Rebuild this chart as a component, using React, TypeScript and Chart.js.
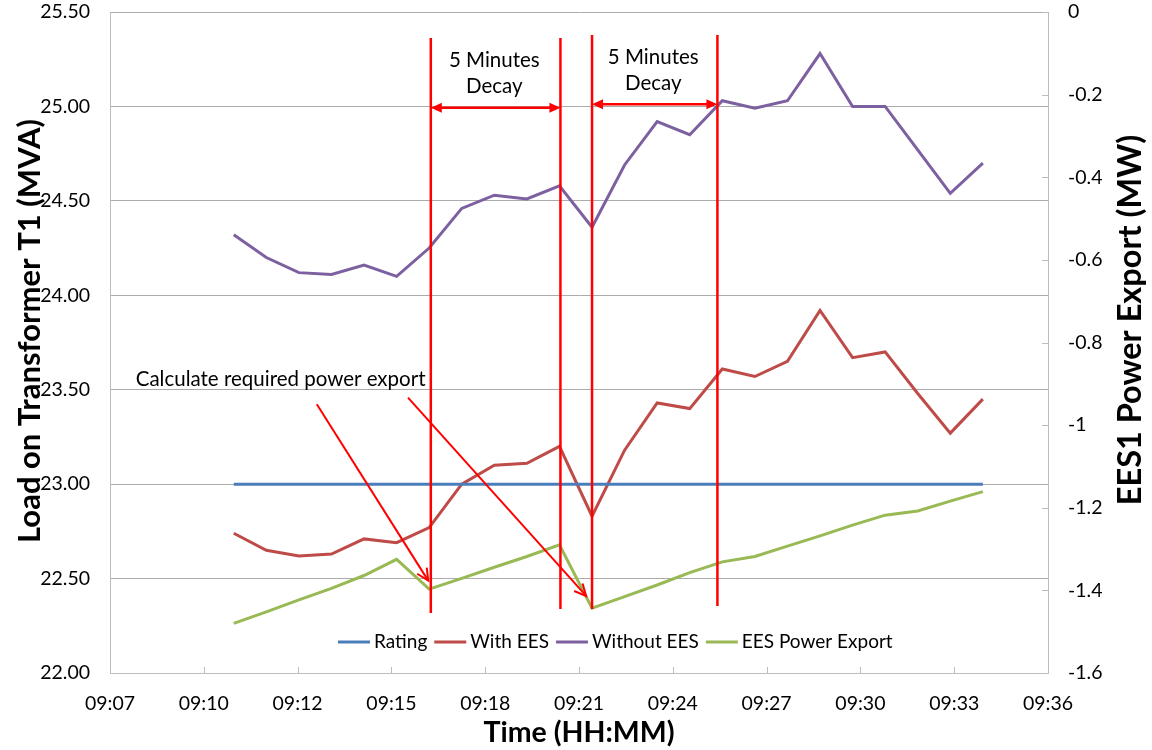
import { useEffect, useRef } from "react";
import { Chart, registerables } from "chart.js";

Chart.register(...registerables);

// Sample times (one reading per minute)
const TIME_LABELS = [
  "09:11", "09:12", "09:13", "09:14", "09:15", "09:16", "09:17", "09:18",
  "09:19", "09:20", "09:21", "09:22", "09:23", "09:24", "09:25", "09:26",
  "09:27", "09:28", "09:29", "09:30", "09:31", "09:32", "09:33", "09:34",
];

// Transformer T1 load (MVA)
const RATING = [
  23.0, 23.0, 23.0, 23.0, 23.0, 23.0, 23.0, 23.0, 23.0, 23.0, 23.0, 23.0,
  23.0, 23.0, 23.0, 23.0, 23.0, 23.0, 23.0, 23.0, 23.0, 23.0, 23.0, 23.0,
];
const WITH_EES = [
  22.74, 22.65, 22.62, 22.63, 22.71, 22.69, 22.77, 23.0, 23.1, 23.11, 23.2, 22.83,
  23.18, 23.43, 23.4, 23.61, 23.57, 23.65, 23.92, 23.67, 23.7, 23.48, 23.27, 23.45,
];
const WITHOUT_EES = [
  24.32, 24.2, 24.12, 24.11, 24.16, 24.1, 24.25, 24.46, 24.53, 24.51, 24.58, 24.36,
  24.69, 24.92, 24.85, 25.03, 24.99, 25.03, 25.28, 25.0, 25.0, 24.77, 24.54, 24.7,
];

// EES1 power export (MW)
const EES_POWER_EXPORT = [
  -1.48, -1.452, -1.423, -1.395, -1.364, -1.325, -1.397, -1.371, -1.344, -1.318, -1.29, -1.443,
  -1.415, -1.387, -1.357, -1.331, -1.318, -1.293, -1.268, -1.242, -1.218, -1.208, -1.184, -1.161,
];

// Time axis: 09:07:12 .. 09:36:00 in minutes since midnight, 2.88 min per division
const X_MIN = 547.2;
const X_MAX = 576;
const X_STEP = 2.88;
const X_TICK_LABELS = [
  "09:07", "09:10", "09:12", "09:15", "09:18", "09:21",
  "09:24", "09:27", "09:30", "09:33", "09:36",
];

const SERIES_NAMES = ["Rating", "With EES", "Without EES", "EES Power Export"];
const SERIES_COLORS = ["#4A7EBB", "#BE4B48", "#7D60A0", "#98B954"];

const LEFT_TITLE = "Load on Transformer T1 (MVA)";
const RIGHT_TITLE = "EES1 Power Export (MW)";
const X_TITLE = "Time (HH:MM)";

const FONT = "Lato, Carlito, 'Open Sans', sans-serif";
const RED = "#FF0000";
const GRID = "#ABABAB";
const AXIS = "#BDBDBD";

const toMinutes = (hhmm: string) => {
  const [h, m] = hhmm.split(":").map(Number);
  return h * 60 + m;
};

// Decay-window annotations, in data units (x: minutes, y: left axis MVA)
const DECAY_LINES = [
  { t: 557.05, top: 25.362, bottom: 22.318 },
  { t: 561.03, top: 25.362, bottom: 22.339 },
  { t: 562.0, top: 25.378, bottom: 22.339 },
  { t: 565.85, top: 25.378, bottom: 22.355 },
];
const DECAY_SPANS = [
  { from: 557.05, to: 561.03, y: 24.993, textT: 559.0, textY: [25.242, 25.104] },
  { from: 562.0, to: 565.85, y: 25.011, textT: 563.88, textY: [25.258, 25.122] },
];
const DECAY_TEXT = ["5 Minutes", "Decay"];
const CALC_NOTE = { text: "Calculate required power export", t: 547.99, y: 23.557 };
const CALC_ARROWS = [
  { t1: 553.55, y1: 23.423, t2: 556.97, y2: 22.489 },
  { t1: 556.35, y1: 23.458, t2: 561.82, y2: 22.408 },
];

const filledHead = (ctx: CanvasRenderingContext2D, x: number, y: number, dir: number) => {
  // dir: +1 points right, -1 points left
  ctx.beginPath();
  ctx.moveTo(x, y);
  ctx.lineTo(x - dir * 11, y - 5);
  ctx.lineTo(x - dir * 11, y + 5);
  ctx.closePath();
  ctx.fill();
};

const openHead = (ctx: CanvasRenderingContext2D, x1: number, y1: number, x2: number, y2: number) => {
  const a = Math.atan2(y2 - y1, x2 - x1);
  const len = 13;
  const spread = 0.45;
  ctx.beginPath();
  ctx.moveTo(x2 - len * Math.cos(a - spread), y2 - len * Math.sin(a - spread));
  ctx.lineTo(x2, y2);
  ctx.lineTo(x2 - len * Math.cos(a + spread), y2 - len * Math.sin(a + spread));
  ctx.stroke();
};

const decayNotes = {
  id: "decayNotes",
  afterDatasetsDraw(chart: any) {
    const { ctx } = chart;
    const xs = chart.scales.x;
    const ys = chart.scales.y;
    const px = (t: number) => xs.getPixelForValue(t);
    const py = (v: number) => ys.getPixelForValue(v);
    ctx.save();
    ctx.strokeStyle = RED;
    ctx.fillStyle = RED;
    ctx.lineCap = "butt";

    ctx.lineWidth = 2.5;
    DECAY_LINES.forEach((l) => {
      ctx.beginPath();
      ctx.moveTo(px(l.t), py(l.top));
      ctx.lineTo(px(l.t), py(l.bottom));
      ctx.stroke();
    });

    DECAY_SPANS.forEach((s) => {
      const x1 = px(s.from);
      const x2 = px(s.to);
      const y = py(s.y);
      ctx.lineWidth = 2.5;
      ctx.beginPath();
      ctx.moveTo(x1 + 8, y);
      ctx.lineTo(x2 - 8, y);
      ctx.stroke();
      filledHead(ctx, x1, y, -1);
      filledHead(ctx, x2, y, 1);
    });

    ctx.lineWidth = 2;
    CALC_ARROWS.forEach((a) => {
      const x1 = px(a.t1), y1 = py(a.y1), x2 = px(a.t2), y2 = py(a.y2);
      ctx.beginPath();
      ctx.moveTo(x1, y1);
      ctx.lineTo(x2, y2);
      ctx.stroke();
      openHead(ctx, x1, y1, x2, y2);
    });

    ctx.fillStyle = "#000";
    ctx.font = `20.5px ${FONT}`;
    ctx.textBaseline = "middle";
    ctx.textAlign = "center";
    DECAY_SPANS.forEach((s) => {
      DECAY_TEXT.forEach((txt, i) => ctx.fillText(txt, px(s.textT), py(s.textY[i])));
    });
    ctx.textAlign = "left";
    ctx.fillText(CALC_NOTE.text, px(CALC_NOTE.t), py(CALC_NOTE.y));
    ctx.restore();
  },
};

// Short inward tick marks on the time axis and the secondary axis
const innerTicks = {
  id: "innerTicks",
  afterDatasetsDraw(chart: any) {
    const { ctx, chartArea } = chart;
    const xs = chart.scales.x;
    const y1 = chart.scales.y1;
    ctx.save();
    ctx.strokeStyle = AXIS;
    ctx.lineWidth = 1;
    xs.ticks.forEach((tk: any) => {
      const x = Math.round(xs.getPixelForValue(tk.value)) + 0.5;
      ctx.beginPath();
      ctx.moveTo(x, chartArea.bottom);
      ctx.lineTo(x, chartArea.bottom - 6);
      ctx.stroke();
    });
    y1.ticks.forEach((tk: any) => {
      const y = Math.round(y1.getPixelForValue(tk.value)) + 0.5;
      ctx.beginPath();
      ctx.moveTo(chartArea.right, y);
      ctx.lineTo(chartArea.right - 6, y);
      ctx.stroke();
    });
    ctx.restore();
  },
};

// Both value-axis titles read bottom-to-top
const sideTitles = {
  id: "sideTitles",
  afterDraw(chart: any) {
    const { ctx, chartArea } = chart;
    const draw = (text: string, x: number, y: number, size: number) => {
      ctx.save();
      ctx.translate(x, y);
      ctx.rotate(-Math.PI / 2);
      ctx.font = `bold ${size}px ${FONT}`;
      ctx.fillStyle = "#000";
      ctx.textAlign = "center";
      ctx.textBaseline = "middle";
      ctx.fillText(text, 0, 0);
      ctx.restore();
    };
    draw(LEFT_TITLE, chartArea.left - 80, chartArea.top + 319, 31);
    draw(RIGHT_TITLE, chartArea.right + 83, chartArea.top + 308, 32.5);
  },
};

// Legend drawn inside the plot area, along its lower edge
const insideLegend = {
  id: "insideLegend",
  afterDraw(chart: any) {
    const { ctx, chartArea } = chart;
    let x = chartArea.left + 228;
    const y = chartArea.bottom - 31;
    ctx.save();
    ctx.font = `19px ${FONT}`;
    ctx.textBaseline = "middle";
    ctx.textAlign = "left";
    chart.data.datasets.forEach((ds: any) => {
      ctx.strokeStyle = ds.borderColor;
      ctx.lineWidth = 3;
      ctx.beginPath();
      ctx.moveTo(x, y);
      ctx.lineTo(x + 32, y);
      ctx.stroke();
      x += 36;
      ctx.fillStyle = "#000";
      ctx.fillText(ds.label, x, y);
      x += ctx.measureText(ds.label).width + 7;
    });
    ctx.restore();
  },
};

const formatRight = (v: number) => String(Math.round(v * 10) / 10);

// Keep the plot area fixed: no extra room reserved for half-height end labels
const fixWidth = (w: number) => (scale: any) => {
  scale.width = w;
  scale.paddingTop = 0;
  scale.paddingBottom = 0;
};

export default function App() {
  const ref = useRef<HTMLCanvasElement>(null);

  useEffect(() => {
    const canvas = ref.current;
    if (!canvas) return;
    const times = TIME_LABELS.map(toMinutes);
    const series = [RATING, WITH_EES, WITHOUT_EES, EES_POWER_EXPORT];

    const chart = new Chart(canvas, {
      type: "line",
      data: {
        datasets: series.map((vals, i) => ({
          label: SERIES_NAMES[i],
          data: times.map((t, j) => ({ x: t, y: vals[j] })),
          borderColor: SERIES_COLORS[i],
          backgroundColor: SERIES_COLORS[i],
          borderWidth: 3,
          pointRadius: 0,
          tension: 0,
          yAxisID: i === 3 ? "y1" : "y",
        })),
      },
      options: {
        responsive: false,
        animation: false,
        devicePixelRatio: 1,
        layout: { padding: { top: 12, left: 0, right: 0, bottom: 0 } },
        plugins: {
          legend: { display: false },
          tooltip: { enabled: false },
        },
        scales: {
          x: {
            type: "linear",
            position: "bottom",
            min: X_MIN,
            max: X_MAX,
            afterBuildTicks: (scale: any) => {
              scale.ticks = X_TICK_LABELS.map((_, i) => ({ value: X_MIN + i * X_STEP }));
            },
            afterFit: (scale: any) => {
              scale.height = 77;
              scale.paddingLeft = 0;
              scale.paddingRight = 0;
            },
            grid: { display: false, drawTicks: false },
            border: { display: true, color: AXIS, width: 1 },
            ticks: {
              color: "#000",
              font: { family: FONT, size: 19.5 },
              padding: 19,
              maxRotation: 0,
              autoSkip: false,
              callback: (_v: any, i: number) => X_TICK_LABELS[i],
            },
            title: {
              display: true,
              text: X_TITLE,
              color: "#000",
              font: { family: FONT, size: 28.5, weight: "bold" },
              padding: { top: 0, bottom: 0 },
            },
          },
          y: {
            type: "linear",
            position: "left",
            min: 22,
            max: 25.5,
            afterFit: fixWidth(110),
            grid: { color: GRID, lineWidth: 1, drawTicks: false },
            border: { display: true, color: AXIS, width: 1 },
            ticks: {
              stepSize: 0.5,
              color: "#000",
              padding: 20,
              font: { family: FONT, size: 19.5 },
              callback: (v: any) => Number(v).toFixed(2),
            },
            title: { display: false },
          },
          y1: {
            type: "linear",
            position: "right",
            min: -1.6,
            max: 0,
            afterFit: fixWidth(104),
            grid: { display: false, drawTicks: false },
            border: { display: true, color: AXIS, width: 1 },
            ticks: {
              stepSize: 0.2,
              color: "#000",
              padding: 20,
              font: { family: FONT, size: 19.5 },
              callback: (v: any) => formatRight(Number(v)),
            },
            title: { display: false },
          },
        },
      } as any,
      plugins: [innerTicks, decayNotes, insideLegend, sideTitles],
    });

    return () => chart.destroy();
  }, []);

  return (
    <div style={{ position: "fixed", left: 0, top: 0, width: 1152, height: 750, background: "#fff" }}>
      <canvas ref={ref} width={1152} height={750} style={{ display: "block", width: 1152, height: 750 }} />
    </div>
  );
}
